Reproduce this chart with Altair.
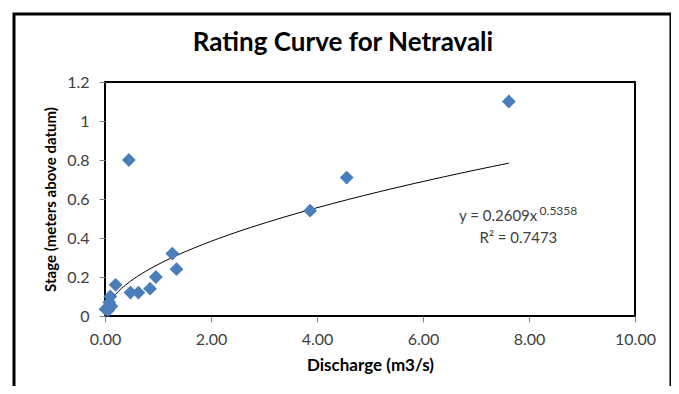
import altair as alt
import pandas as pd

# Data
discharge = [0.01, 0.06, 0.08, 0.10, 0.12, 0.20, 0.45, 0.48, 0.63, 0.85, 0.96, 1.27, 1.35, 3.87, 4.56, 7.62]
stage     = [0.035, 0.03, 0.07, 0.10, 0.05, 0.16, 0.80, 0.12, 0.12, 0.14, 0.20, 0.32, 0.24, 0.54, 0.71, 1.10]

x_ticks = [0, 2, 4, 6, 8, 10]
y_ticks = [0, 0.2, 0.4, 0.6, 0.8, 1, 1.2]

equation_main = "y = 0.2609x"
equation_exp = "0.5358"
r_squared = "R² = 0.7473"

df = pd.DataFrame({"discharge": discharge, "stage": stage})

FONT = "Lato"
BLUE = "#4A7EBB"
LABEL = "#404040"

x_scale = alt.Scale(domain=[0, 10], nice=False)
y_scale = alt.Scale(domain=[0, 1.2], nice=False)

x_axis = alt.Axis(
    values=x_ticks, format=".2f", title="Discharge (m3/s)",
    grid=False, domain=False, tickColor="#868686", tickSize=6,
    labelFlush=False, labelOverlap=False,
    labelFont=FONT, labelFontSize=16, labelColor=LABEL, labelPadding=9,
    titleFont=FONT, titleFontSize=17, titleFontWeight="bold", titleColor="black",
    titlePadding=10,
)
y_axis = alt.Axis(
    values=y_ticks, format="~g", tickCount=7,
    title="Stage (meters above datum)",
    grid=False, domain=False, tickColor="#868686", tickSize=6,
    labelFlush=False, labelOverlap=False,
    labelFont=FONT, labelFontSize=16, labelColor=LABEL, labelPadding=10,
    titleFont=FONT, titleFontSize=15, titleFontWeight="bold", titleColor="black",
    titlePadding=8,
)

base = alt.Chart(df)

frame = base.mark_rect(
    fillOpacity=0, stroke="black", strokeWidth=3, clip=False
).encode(
    x=alt.value(-91), x2=alt.value(566), y=alt.value(-68), y2=alt.value(330)
).transform_filter("datum.discharge == 7.62")

points = base.mark_point(
    shape="diamond", filled=True, size=190, color=BLUE, opacity=1
).encode(
    x=alt.X("discharge:Q", scale=x_scale, axis=x_axis),
    y=alt.Y("stage:Q", scale=y_scale, axis=y_axis),
)

trend = base.transform_regression(
    "discharge", "stage", method="pow", extent=[0.01, 7.62]
).mark_line(color="black", strokeWidth=1).encode(
    x=alt.X("discharge:Q", scale=x_scale, axis=x_axis),
    y=alt.Y("stage:Q", scale=y_scale, axis=y_axis),
)

eq1 = alt.Chart().mark_text(
    font=FONT, fontSize=15, color=LABEL, align="left", baseline="middle"
).encode(x=alt.datum(6.68), y=alt.datum(0.515), text=alt.value(equation_main))

eq2 = alt.Chart().mark_text(
    font=FONT, fontSize=12, color=LABEL, align="left", baseline="middle"
).encode(x=alt.datum(8.20), y=alt.datum(0.537), text=alt.value(equation_exp))

eq3 = alt.Chart().mark_text(
    font=FONT, fontSize=15, color=LABEL, align="center", baseline="middle"
).encode(x=alt.datum(7.80), y=alt.datum(0.40), text=alt.value(r_squared))

chart = alt.layer(frame, trend, points, eq1, eq2, eq3).properties(
    width=530, height=234,
    title=alt.TitleParams(
        "Rating Curve for Netravali", font=FONT, fontSize=26, fontWeight="bold",
        color="black", anchor="middle", frame="group", dx=-27, offset=-43,
    ),
    autosize=alt.AutoSizeParams(type="none"),
    padding={"left": 97, "top": 74, "right": 36, "bottom": 70},
).configure(
    background="white"
).configure_axis(
    labelOverlap=False
).configure_view(
    stroke="black", strokeWidth=2
)

chart.save("out.html", embed_options={"renderer": "svg", "actions": False})
